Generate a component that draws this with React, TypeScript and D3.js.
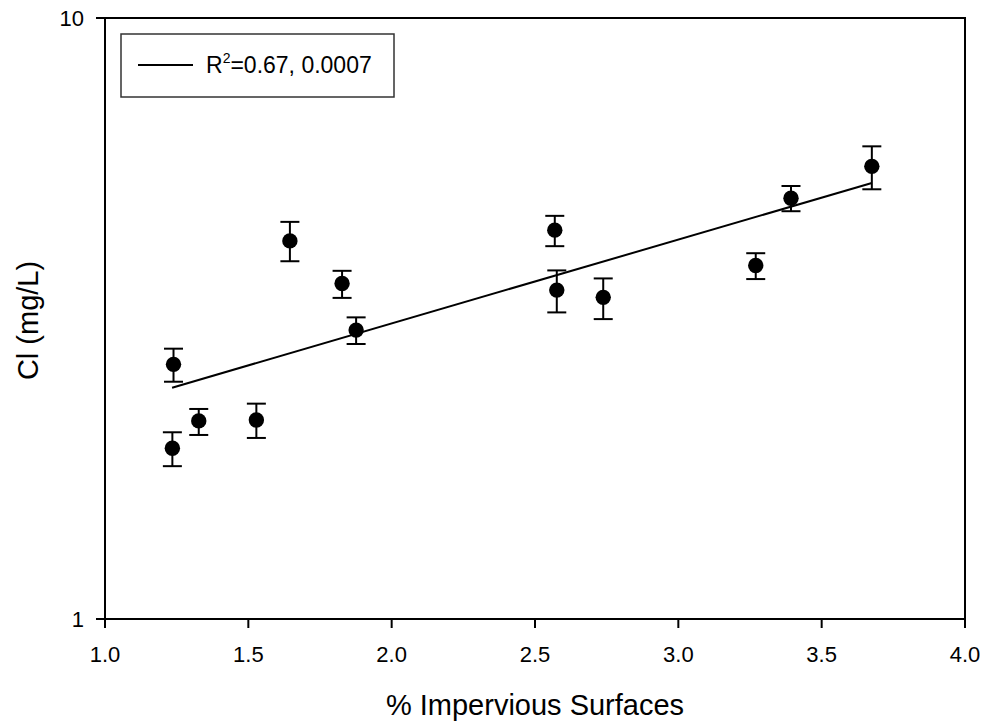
import React from 'react';
import * as d3 from 'd3';

// % impervious surfaces vs chloride (mg/L), mean with error bars
const impervious = [1.235, 1.239, 1.327, 1.528, 1.645, 1.827, 1.876, 2.569, 2.576, 2.738, 3.27, 3.393, 3.675];
const chloride = [1.924, 2.653, 2.136, 2.144, 4.257, 3.616, 3.025, 4.436, 3.526, 3.429, 3.875, 5.013, 5.665];
const errLow = [1.796, 2.482, 2.024, 2.001, 3.938, 3.422, 2.868, 4.172, 3.237, 3.155, 3.678, 4.77, 5.188];
const errHigh = [2.045, 2.817, 2.236, 2.282, 4.579, 3.796, 3.176, 4.686, 3.802, 3.687, 4.061, 5.254, 6.116];

// regression line endpoints
const fitX = [1.234, 3.675];
const fitY = [2.426, 5.315];

const xTicks = [1.0, 1.5, 2.0, 2.5, 3.0, 3.5, 4.0];
const yTicks = [1, 10];

const W = 985;
const H = 721;
const margin = { top: 18, right: 20, bottom: 102, left: 105 };
const FONT = '"Liberation Sans", Arial, sans-serif';

export default function App() {
  const x = d3.scaleLinear().domain([1, 4]).range([margin.left, W - margin.right]);
  const y = d3.scaleLog().domain([1, 10]).range([H - margin.bottom, margin.top]);

  const points = impervious.map((v, i) => ({
    x: v,
    y: chloride[i],
    lo: errLow[i],
    hi: errHigh[i],
  }));

  const fit = d3
    .line<number>()
    .x((_, i) => x(fitX[i]))
    .y((d) => y(d))(fitY);

  const x0 = x(1);
  const x1 = x(4);
  const y0 = y(1);
  const y1 = y(10);
  const cap = 9.5;

  return (
    <svg
      width={W}
      height={H}
      style={{ position: 'absolute', left: 0, top: 0, background: '#fff' }}
      fontFamily={FONT}
    >
      {/* frame */}
      <rect x={x0} y={y1} width={x1 - x0} height={y0 - y1} fill="none" stroke="#000" strokeWidth={2} />

      {/* x axis ticks */}
      {xTicks.map((t) => (
        <g key={'x' + t}>
          <line x1={x(t)} x2={x(t)} y1={y0} y2={y0 + 9} stroke="#000" strokeWidth={2} />
          <text x={x(t)} y={y0 + 43} textAnchor="middle" fontSize={22}>
            {d3.format('.1f')(t)}
          </text>
        </g>
      ))}

      {/* y axis ticks */}
      {yTicks.map((t) => (
        <g key={'y' + t}>
          <line x1={x0 - 9} x2={x0} y1={y(t)} y2={y(t)} stroke="#000" strokeWidth={2} />
          <text x={x0 - 21} y={y(t)} dy="0.35em" textAnchor="end" fontSize={22}>
            {t}
          </text>
        </g>
      ))}

      {/* axis titles */}
      <text x={(x0 + x1) / 2} y={715} textAnchor="middle" fontSize={29}>
        % Impervious Surfaces
      </text>
      <text
        transform={`translate(38, ${(y0 + y1) / 2 + 2}) rotate(-90)`}
        textAnchor="middle"
        fontSize={29}
      >
        Cl (mg/L)
      </text>

      {/* regression line */}
      <path d={fit ?? ''} fill="none" stroke="#000" strokeWidth={2} />

      {/* error bars */}
      {points.map((p, i) => (
        <g key={'e' + i} stroke="#000" strokeWidth={2}>
          <line x1={x(p.x)} x2={x(p.x)} y1={y(p.lo)} y2={y(p.hi)} />
          <line x1={x(p.x) - cap} x2={x(p.x) + cap} y1={y(p.lo)} y2={y(p.lo)} />
          <line x1={x(p.x) - cap} x2={x(p.x) + cap} y1={y(p.hi)} y2={y(p.hi)} />
        </g>
      ))}

      {/* points */}
      {points.map((p, i) => (
        <circle key={'c' + i} cx={x(p.x)} cy={y(p.y)} r={7.7} fill="#000" />
      ))}

      {/* legend */}
      <rect x={121} y={34} width={273} height={63} fill="#fff" stroke="#333" strokeWidth={1.5} />
      <line x1={138} x2={193} y1={65} y2={65} stroke="#000" strokeWidth={2} />
      <text x={206} y={73} fontSize={23}>
        R
        <tspan fontSize={14} dy={-10}>2</tspan>
        <tspan dy={10}>=0.67, 0.0007</tspan>
      </text>
    </svg>
  );
}
